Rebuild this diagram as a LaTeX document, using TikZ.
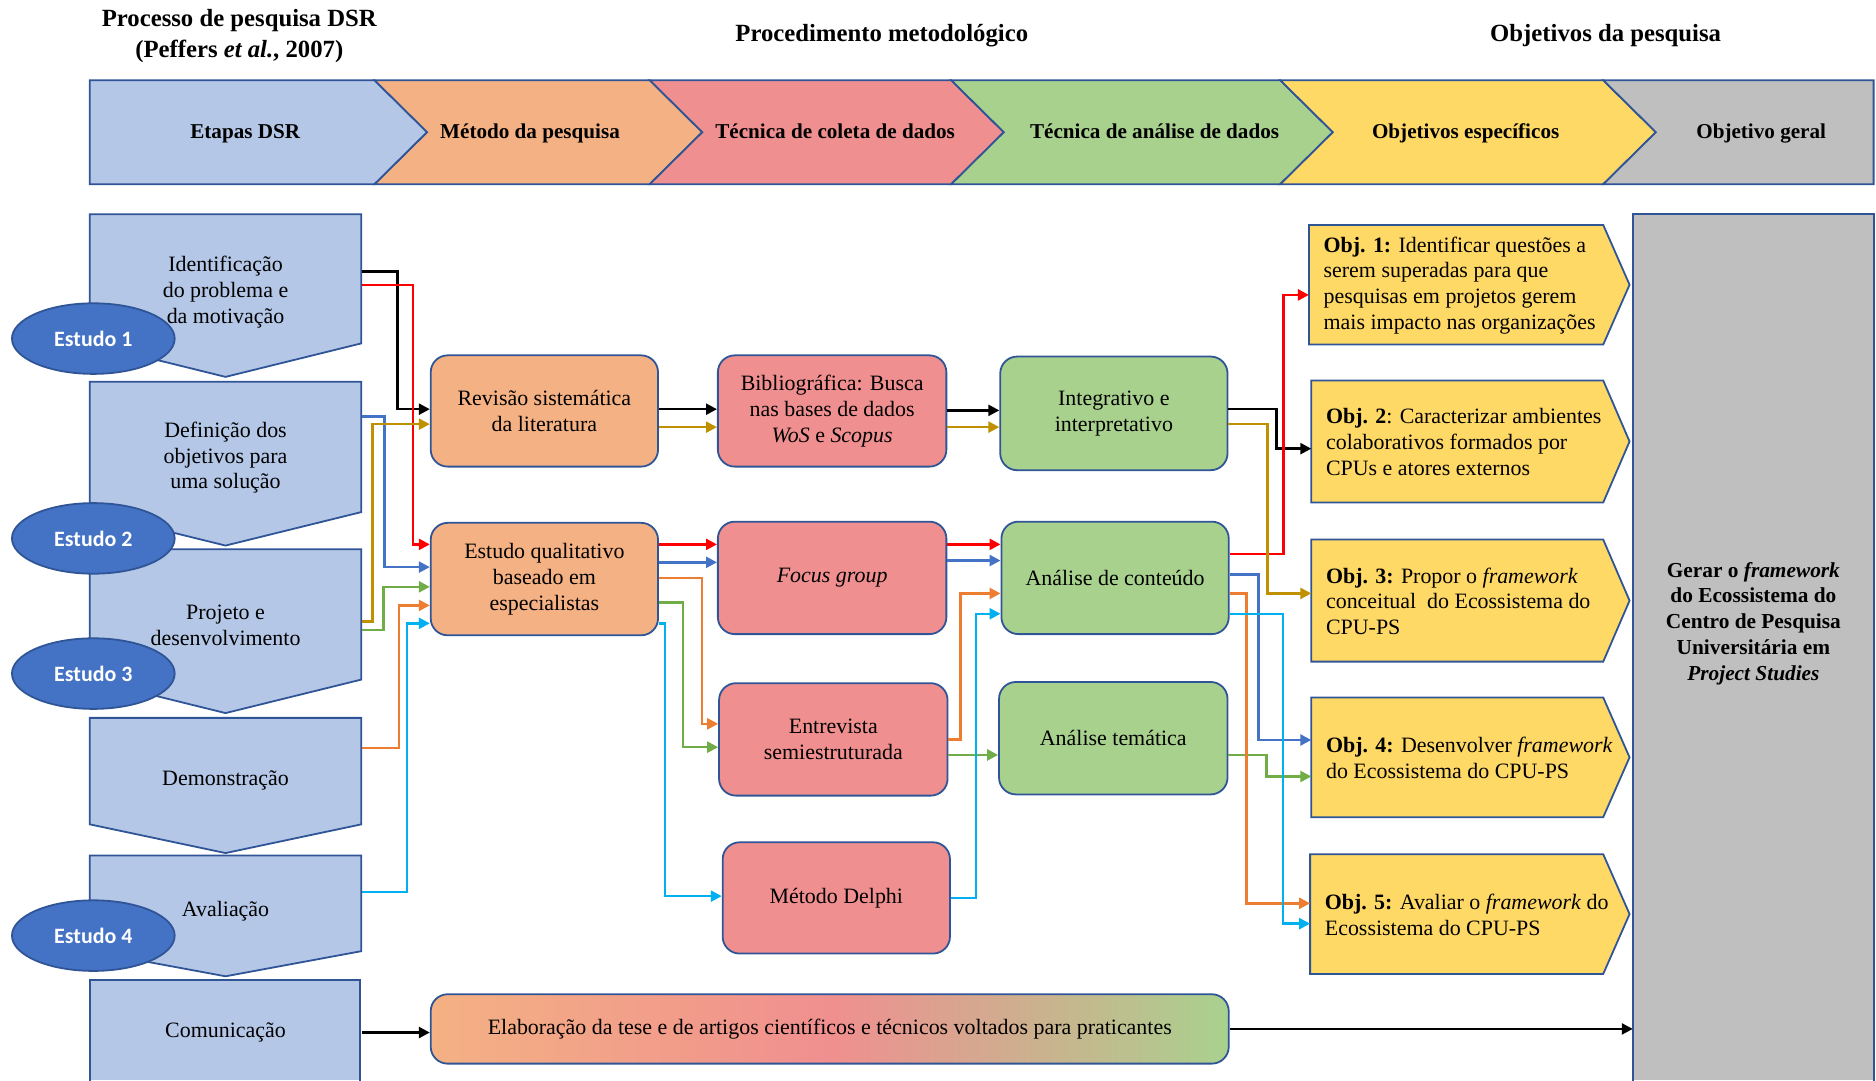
\documentclass[tikz,border=0pt]{standalone}
\usepackage{fontspec}
\setmainfont{Liberation Serif}
\newfontfamily\studyfont{Carlito}
\usetikzlibrary{arrows.meta,calc,shapes.geometric}

\definecolor{stageblue}{HTML}{B4C7E7}
\definecolor{edgeblue}{HTML}{2F5597}
\definecolor{methodorange}{HTML}{F4B183}
\definecolor{collectpink}{HTML}{F08F8F}
\definecolor{analysisgreen}{HTML}{A9D18E}
\definecolor{goalyellow}{HTML}{FFD966}
\definecolor{goalgrey}{HTML}{BFBFBF}
\definecolor{studyblue}{HTML}{4472C4}
\definecolor{arrred}{HTML}{FF0000}
\definecolor{arrblue}{HTML}{4472C4}
\definecolor{arrgold}{HTML}{BF9000}
\definecolor{arrgreen}{HTML}{70AD47}
\definecolor{arrorange}{HTML}{ED7D31}
\definecolor{arrcyan}{HTML}{00B0F0}

\newcommand\dsrbody{\fontsize{11}{12.9}\selectfont}
\newcommand\dsrhead{\fontsize{10.6}{12.7}\selectfont\bfseries}
\newcommand\dsrtitle{\fontsize{12.4}{15.6}\selectfont\bfseries}

\begin{document}
\begin{tikzpicture}[x=0.6pt, y=-0.6pt,
  shapeedge/.style={draw=edgeblue, line width=0.9pt},
  stagetext/.style={inner sep=0pt, minimum width=136.2pt, align=center, font=\dsrbody},
  headtext/.style={inner sep=0pt, text height=8pt, text depth=2.4pt, font=\dsrhead},
  titletext/.style={inner sep=0pt, align=center, font=\dsrtitle},
  box/.style={draw=edgeblue, line width=0.9pt, rounded corners=8.5pt, inner sep=0pt, align=center, font=\dsrbody},
  goaltext/.style={anchor=west, inner xsep=7.2pt, inner ysep=0pt, align=left, font=\dsrbody},
  study/.style={ellipse, draw=edgeblue, line width=0.9pt, fill=studyblue, minimum width=81.6pt, minimum height=35.4pt, inner sep=0pt, text=white, font=\studyfont\fontsize{11}{13}\selectfont\bfseries},
  flow/.style={line width=1.25pt, line join=miter, -{Triangle[length=5.5pt,width=5.5pt]}}
]
\useasboundingbox (0,0) rectangle (1568,903);

% ---------- column titles ----------
\node[titletext] (ttldsr) at (200,30) {Processo de pesquisa DSR\\(Peffers \textit{et al.}, 2007)};
\node[titletext] (ttlproc) at (737,30) {Procedimento metodológico};
\node[titletext] (ttlobj) at (1342,30) {Objetivos da pesquisa};

% ---------- header chevrons ----------
\filldraw[shapeedge, fill=stageblue] (75,67) -- (313,67) -- (357,110.5) -- (313,154) -- (75,154) -- cycle;
\filldraw[shapeedge, fill=methodorange] (313,67) -- (543,67) -- (587,110.5) -- (543,154) -- (313,154) -- (357,110.5) -- cycle;
\filldraw[shapeedge, fill=collectpink] (543,67) -- (795,67) -- (839,110.5) -- (795,154) -- (543,154) -- (587,110.5) -- cycle;
\filldraw[shapeedge, fill=analysisgreen] (795,67) -- (1070,67) -- (1114,110.5) -- (1070,154) -- (795,154) -- (839,110.5) -- cycle;
\filldraw[shapeedge, fill=goalyellow] (1070,67) -- (1340,67) -- (1384,110.5) -- (1340,154) -- (1070,154) -- (1114,110.5) -- cycle;
\filldraw[shapeedge, fill=goalgrey] (1340,67) -- (1566,67) -- (1566,154) -- (1340,154) -- (1384,110.5) -- cycle;

\node[headtext] (hstage) at (205,111) {Etapas DSR};
\node[headtext] (hmethod) at (443,111) {Método da pesquisa};
\node[headtext] (hcollect) at (698,111) {Técnica de coleta de dados};
\node[headtext] (hanalysis) at (965,111) {Técnica de análise de dados};
\node[headtext] (hspecific) at (1225,111) {Objetivos específicos};
\node[headtext] (hgeneral) at (1472,111) {Objetivo geral};

% ---------- DSR stages (down-pointing pentagons) ----------
\filldraw[shapeedge, fill=stageblue] (75,179) -- (302,179) -- (302,287) -- (188.5,315) -- (75,287) -- cycle;
\filldraw[shapeedge, fill=stageblue] (75,319) -- (302,319) -- (302,428) -- (188.5,456) -- (75,428) -- cycle;
\filldraw[shapeedge, fill=stageblue] (75,459) -- (302,459) -- (302,568) -- (188.5,596) -- (75,568) -- cycle;
\filldraw[shapeedge, fill=stageblue] (75,600) -- (302,600) -- (302,689) -- (188.5,713) -- (75,689) -- cycle;
\filldraw[shapeedge, fill=stageblue] (75,715) -- (302,715) -- (302,795) -- (188.5,816) -- (75,795) -- cycle;
\fill[stageblue] (75,819) rectangle (301,903);
\draw[shapeedge] (75,910) -- (75,819) -- (301,819) -- (301,910);

% ---------- study markers ----------
\node[study] (est1) at (78,283) {Estudo 1};
\node[study] (est2) at (78,450) {Estudo 2};
\node[study] (est3) at (78,563) {Estudo 3};
\node[study] (est4) at (78,782) {Estudo 4};

\node[stagetext] (ident) at (188.5,244) {Identificação\\do problema e\\da motivação};
\node[stagetext] (defin) at (188.5,382.5) {Definição dos\\objetivos para\\uma solução};
\node[stagetext] (proj) at (188.5,522.5) {Projeto e\\desenvolvimento};
\node[stagetext] (demo) at (188.5,652) {Demonstração};
\node[stagetext] (aval) at (188.5,762) {Avaliação};
\node[stagetext] (comun) at (188.5,863) {Comunicação};

% ---------- methods, collection and analysis techniques ----------
\node[box, fill=methodorange, minimum width=114pt, minimum height=55.8pt] (rev) at (455,343.5) {Revisão sistemática\\da literatura};
\node[box, fill=methodorange, minimum width=114pt, minimum height=56.4pt] (qual) at (455,484) {Estudo qualitativo\\baseado em\\especialistas};
\node[box, fill=collectpink, minimum width=114.6pt, minimum height=55.8pt] (bib) at (695.5,343.5) {Bibliográfica: Busca\\nas bases de dados\\\textit{WoS} e \textit{Scopus}};
\node[box, fill=collectpink, minimum width=114.6pt, minimum height=56.4pt] (focus) at (695.5,483) {\textit{Focus group}};
\node[box, fill=collectpink, minimum width=114.6pt, minimum height=56.4pt] (entr) at (696.5,618) {Entrevista\\semiestruturada};
\node[box, fill=collectpink, minimum width=114pt, minimum height=55.8pt] (delphi) at (699,750.5) {Método Delphi};
\node[box, fill=analysisgreen, minimum width=114pt, minimum height=57pt] (integ) at (931,345.5) {Integrativo e\\interpretativo};
\node[box, fill=analysisgreen, minimum width=114pt, minimum height=56.4pt] (cont) at (932,483) {Análise de conteúdo};
\node[box, fill=analysisgreen, minimum width=114.6pt, minimum height=56.4pt] (tema) at (930.5,617) {Análise temática};
\node[box, left color=methodorange, right color=analysisgreen, middle color=collectpink, minimum width=400.2pt, minimum height=34.8pt] (elab) at (693.5,860) {Elaboração da tese e de artigos científicos e técnicos voltados para praticantes};

% ---------- specific objectives ----------
\filldraw[shapeedge, fill=goalyellow] (1094,188) -- (1340,188) -- (1362,238) -- (1340,288) -- (1094,288) -- cycle;
\filldraw[shapeedge, fill=goalyellow] (1096,318) -- (1340,318) -- (1362,369) -- (1340,420) -- (1096,420) -- cycle;
\filldraw[shapeedge, fill=goalyellow] (1096,451) -- (1340,451) -- (1362,502) -- (1340,553) -- (1096,553) -- cycle;
\filldraw[shapeedge, fill=goalyellow] (1096,583) -- (1340,583) -- (1362,633) -- (1340,683) -- (1096,683) -- cycle;
\filldraw[shapeedge, fill=goalyellow] (1095,714) -- (1340,714) -- (1362,764) -- (1340,814) -- (1095,814) -- cycle;

\node[goaltext] (o1) at (1094,238.5) {\textbf{Obj. 1:} Identificar questões a\\serem superadas para que\\pesquisas em projetos gerem\\mais impacto nas organizações};
\node[goaltext] (o2) at (1096,369.5) {\textbf{Obj. 2}: Caracterizar ambientes\\colaborativos formados por\\CPUs e atores externos};
\node[goaltext] (o3) at (1096,502.5) {\textbf{Obj. 3:} Propor o \textit{framework}\\conceitual\ \ do Ecossistema do\\CPU-PS};
\node[goaltext] (o4) at (1096,633.5) {\textbf{Obj. 4:} Desenvolver \textit{framework}\\do Ecossistema do CPU-PS};
\node[goaltext] (o5) at (1095,764.5) {\textbf{Obj. 5:} Avaliar o \textit{framework} do\\Ecossistema do CPU-PS};

% ---------- general objective ----------
\fill[goalgrey] (1365,179) rectangle (1566,903);
\draw[shapeedge] (1365,910) -- (1365,179) -- (1566,179) -- (1566,910);
\node[inner sep=0pt, minimum width=120.6pt, align=center, font=\fontsize{10.7}{12.9}\selectfont\bfseries] (geral) at (1465.5,521)
  {Gerar o \textit{framework}\\do Ecossistema do\\Centro de Pesquisa\\Universitária em\\\textit{Project Studies}};

% ---------- black flow ----------
\draw[flow, black] ($(ident.east)+(0,-17)$) -- ++(30,0) |- ($(rev.west)+(0,-1.5)$);
\draw[flow, black] ($(rev.east)+(0,-1.5)$) -- ($(bib.west)+(0,-1.5)$);
\draw[flow, black] ($(bib.east)+(0,-0.5)$) -- ($(integ.west)+(0,-2.5)$);
\draw[flow, black] ($(integ.east)+(0,-3.5)$) -- ++(40,0) |- ($(o2.west)+(0,5.5)$);
\draw[flow, black] (comun.east) -- (comun.east -| elab.west);
\draw[flow, black] (elab.east) -- (elab.east -| geral.west);

% ---------- red flow ----------
\draw[flow, arrred] ($(ident.east)+(0,-6)$) -- ++(43,0) |- ($(qual.west)+(0,-29)$);
\draw[flow, arrred] ($(qual.east)+(0,-29)$) -- ($(focus.west)+(0,-28)$);
\draw[flow, arrred] ($(focus.east)+(0,-28)$) -- ($(cont.west)+(0,-28)$);
\draw[flow, arrred] ($(cont.east)+(0,-20)$) -- ++(45,0) |- ($(o1.west)+(0,8)$);

% ---------- blue flow ----------
\draw[flow, arrblue] ($(defin.east)+(0,-34.5)$) -- ++(19,0) |- ($(qual.west)+(0,-10)$);
\draw[flow, arrblue] ($(qual.east)+(0,-14)$) -- ($(focus.west)+(0,-13)$);
\draw[flow, arrblue] ($(focus.east)+(0,-14.5)$) -- ($(cont.west)+(0,-14.5)$);
\draw[flow, arrblue] ($(cont.east)+(0,-3)$) -- ++(24,0) |- ($(o4.west)+(0,-15)$);

% ---------- gold flow ----------
\draw[flow, arrgold] ($(proj.east)+(0,-3)$) -- ++(9,0) |- ($(rev.west)+(0,11)$);
\draw[flow, arrgold] ($(rev.east)+(0,13.5)$) -- ($(bib.west)+(0,13.5)$);
\draw[flow, arrgold] ($(bib.east)+(0,13.5)$) -- ($(integ.west)+(0,11.5)$);
\draw[flow, arrgold] ($(integ.east)+(0,9)$) -- ++(32.5,0) |- ($(o3.west)+(0,-6.5)$);

% ---------- green flow ----------
\draw[flow, arrgreen] ($(proj.east)+(0,4)$) -- ++(18,0) |- ($(qual.west)+(0,6.5)$);
\draw[flow, arrgreen] ($(qual.east)+(0,19.5)$) -- ++(20,0) |- ($(entr.west)+(0,6.5)$);
\draw[flow, arrgreen] ($(entr.east)+(0,13)$) -- ($(tema.west)+(0,14)$);
\draw[flow, arrgreen] ($(tema.east)+(0,14)$) -- ++(32,0) |- ($(o4.west)+(0,15.5)$);

% ---------- orange flow ----------
\draw[flow, arrorange] ($(demo.east)+(0,-27)$) -- ++(31,0) |- ($(qual.west)+(0,22)$);
\draw[flow, arrorange] ($(qual.east)+(0,-1)$) -- ++(36,0) |- ($(entr.west)+(0,-13)$);
\draw[flow, arrorange] (entr.east) -- ++(10,0) |- ($(cont.west)+(0,13)$);
\draw[flow, arrorange] ($(cont.east)+(0,13)$) -- ++(14,0) |- ($(o5.west)+(0,-9.5)$);

% ---------- cyan flow ----------
\draw[flow, arrcyan] ($(aval.east)+(0,-16.5)$) -- ++(38,0) |- ($(qual.west)+(0,37)$);
\draw[flow, arrcyan] ($(qual.east)+(0,37)$) -- ++(5,0) |- ($(delphi.west)+(0,-1.5)$);
\draw[flow, arrcyan] (delphi.east) -- ++(21,0) |- ($(cont.west)+(0,30)$);
\draw[flow, arrcyan] ($(cont.east)+(0,30)$) -- ++(44.5,0) |- ($(o5.west)+(0,7.5)$);
\end{tikzpicture}
\end{document}
